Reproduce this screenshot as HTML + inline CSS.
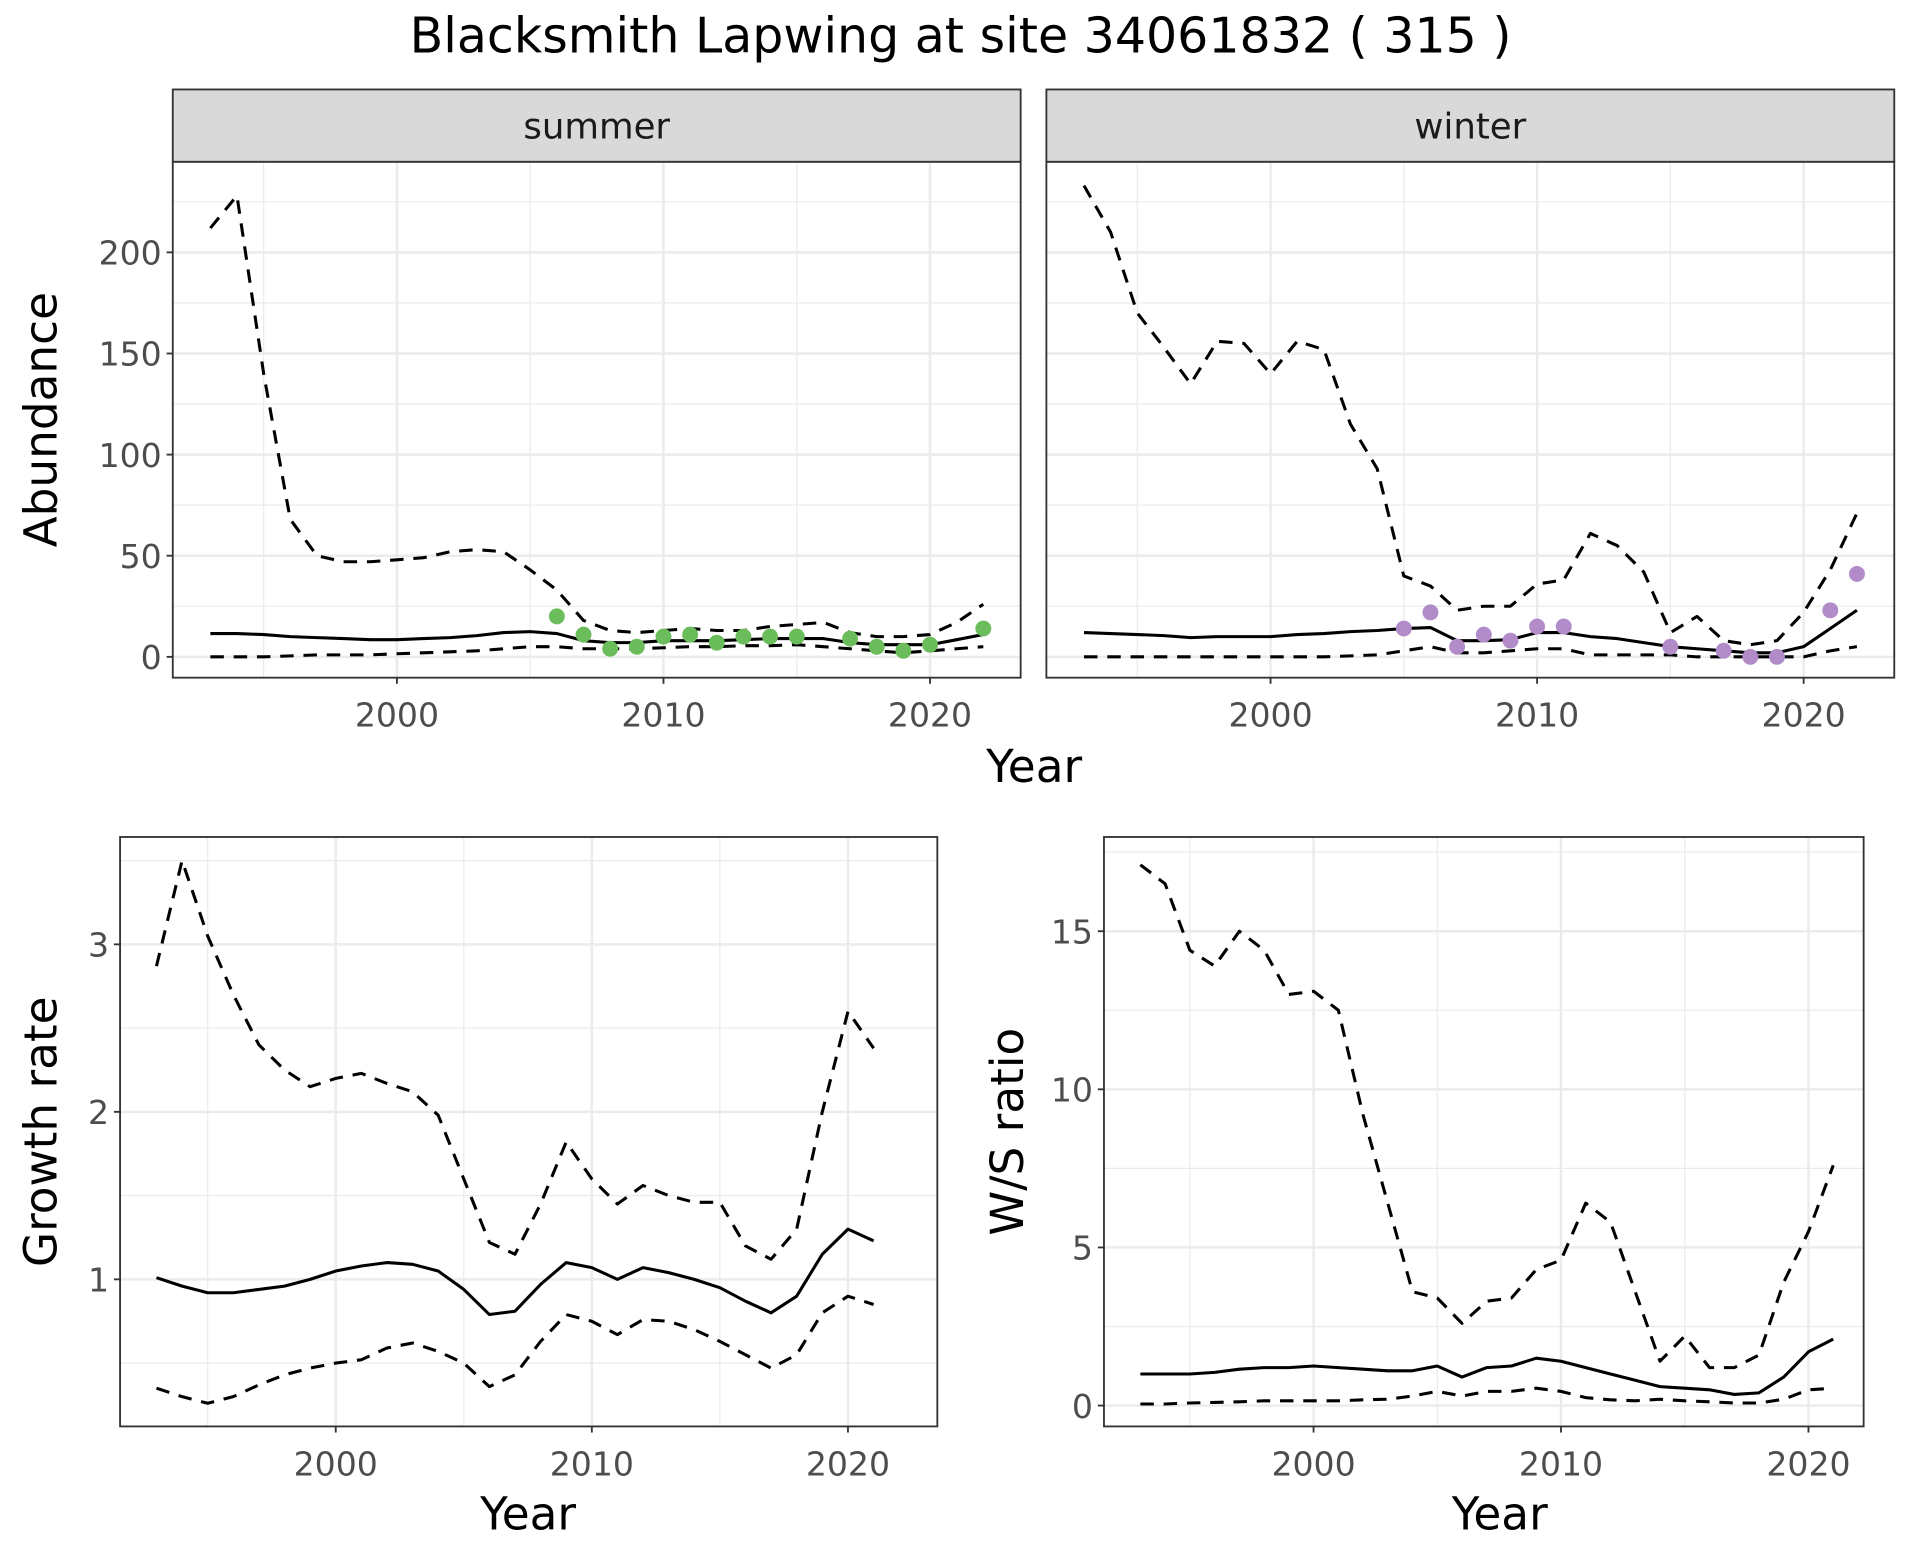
<!DOCTYPE html>
<html><head><meta charset="utf-8"><style>
html,body{margin:0;padding:0;background:#fff}
svg{display:block}
text{font-family:"DejaVu Sans","Liberation Sans",sans-serif}
</style></head><body>
<svg id="chart" width="1920" height="1560" viewBox="0 0 1567 1273" preserveAspectRatio="none" xmlns="http://www.w3.org/2000/svg">
<rect width="1567" height="1273" fill="#fff"/>
<text x="784" y="43" font-size="40" text-anchor="middle" fill="#000">Blacksmith Lapwing at site 34061832 ( 315 )</text>
</svg>
<script>
const years=[1993,1994,1995,1996,1997,1998,1999,2000,2001,2002,2003,2004,2005,2006,2007,2008,2009,2010,2011,2012,2013,2014,2015,2016,2017,2018,2019,2020,2021,2022];
const summerMean=[11.5,11.5,11,10,9.5,9,8.5,8.5,9,9.5,10.5,12,12.5,11.5,8,7,7,8,8,8,8.5,9,9,9,7,6,6,6,8.5,11];
const summerUpper=[212,228,140,68,50,47,47,48,49,52,53,52,43,33,18,13,12,13,14,13,13,15,16,17,12,10,10,11,17,26];
const summerLower=[0,0,0,0.5,1,1,1,1.5,2,2.5,3,4,5,5,4,4,4,4.5,5,5,5.5,5.5,6,5,4,3,2,3,4,5];
const summerPtYears=[2006,2007,2008,2009,2010,2011,2012,2013,2014,2015,2017,2018,2019,2020,2022];
const summerPts=[20,11,4,5,10,11,7,10,10,10,9,5,3,6,14];
const winterMean=[12,11.5,11,10.5,9.5,10,10,10,11,11.5,12.5,13,14,14.5,8,8,8.5,12,12,10,9,7,5,4,3,2,2,5,14,23];
const winterUpper=[233,210,170,153,135,156,155,140,156,152,115,93,40,35,23,25,25,36,38,61,55,42,12,20,8,6,8,22,43,71];
const winterLower=[0,0,0,0,0,0,0,0,0,0,0.5,1,3,5,2,2,3,4,4,1,1,1,1,0,0,0,0,0,3,5];
const winterPtYears=[2005,2006,2007,2008,2009,2010,2011,2015,2017,2018,2019,2021,2022];
const winterPts=[14,22,5,11,8,15,15,5,3,0,0,23,41];
const gYears=years.slice(0,29);
const growthMean=[1.01,0.96,0.92,0.92,0.94,0.96,1.0,1.05,1.08,1.10,1.09,1.05,0.94,0.79,0.81,0.97,1.10,1.07,1.00,1.07,1.04,1.00,0.95,0.87,0.80,0.90,1.15,1.30,1.23];
const growthUpper=[2.87,3.5,3.05,2.7,2.4,2.25,2.15,2.2,2.23,2.17,2.12,1.98,1.6,1.22,1.15,1.45,1.82,1.6,1.45,1.56,1.5,1.46,1.46,1.2,1.12,1.3,2.0,2.6,2.38];
const growthLower=[0.35,0.3,0.26,0.3,0.37,0.43,0.47,0.5,0.52,0.59,0.62,0.57,0.5,0.36,0.43,0.63,0.79,0.75,0.67,0.76,0.75,0.7,0.63,0.55,0.47,0.55,0.8,0.9,0.85];
const wsMean=[1.0,1.0,1.0,1.05,1.15,1.2,1.2,1.25,1.2,1.15,1.1,1.1,1.25,0.9,1.2,1.25,1.5,1.4,1.2,1.0,0.8,0.6,0.55,0.5,0.35,0.4,0.9,1.7,2.1];
const wsUpper=[17.1,16.5,14.4,13.9,15.0,14.4,13.0,13.1,12.5,9.2,6.4,3.6,3.4,2.6,3.3,3.4,4.3,4.6,6.4,5.8,3.6,1.4,2.2,1.2,1.2,1.6,3.9,5.5,7.6];
const wsLower=[0.05,0.05,0.08,0.1,0.12,0.15,0.15,0.15,0.15,0.18,0.2,0.3,0.45,0.3,0.45,0.45,0.55,0.45,0.25,0.18,0.15,0.2,0.15,0.12,0.08,0.08,0.2,0.5,0.55];
const xTicks=[2000,2010,2020];
const xMinor=[1995,2005,2015];
const abTicks=[0,50,100,150,200];
const abMinor=[25,75,125,175,225];
const gTicks=[1,2,3];
const gMinor=[0.5,1.5,2.5,3.5];
const wsTicks=[0,5,10,15];
const wsMinor=[2.5,7.5,12.5,17.5];

const svg=document.getElementById('chart');
const NS='http://www.w3.org/2000/svg';
function el(tag,attrs,parent){const e=document.createElementNS(NS,tag);for(const k in attrs)e.setAttribute(k,attrs[k]);(parent||svg).appendChild(e);return e;}

function panel(o){
  const g=el('g',{});
  
  
  const sx=v=>o.x0+(v-o.xd[0])/(o.xd[1]-o.xd[0])*(o.x1-o.x0);
  const sy=v=>o.y1-(v-o.yd[0])/(o.yd[1]-o.yd[0])*(o.y1-o.y0);
  o.xMinor.forEach(v=>el('line',{x1:sx(v),x2:sx(v),y1:o.y0,y2:o.y1,stroke:'#ebebeb','stroke-width':1},g));
  o.yMinor.forEach(v=>{if(v<o.yd[1])el('line',{x1:o.x0,x2:o.x1,y1:sy(v),y2:sy(v),stroke:'#ebebeb','stroke-width':1},g);});
  o.xTicks.forEach(v=>el('line',{x1:sx(v),x2:sx(v),y1:o.y0,y2:o.y1,stroke:'#ebebeb','stroke-width':2},g));
  o.yTicks.forEach(v=>el('line',{x1:o.x0,x2:o.x1,y1:sy(v),y2:sy(v),stroke:'#ebebeb','stroke-width':2},g));
  const path=(xs,ys,dash,nm)=>{
    let d='';xs.forEach((x,i)=>{d+=(i?'L':'M')+sx(x).toFixed(1)+','+sy(ys[i]).toFixed(1);});
    const p=el('path',{d:d,fill:'none',stroke:'#000','stroke-width':2.5,'stroke-linejoin':'round'},g);
    if(dash)p.setAttribute('stroke-dasharray','11,8');
    
    
  };
  path(o.years,o.upper,true,o.name+'-upper-ci');
  path(o.years,o.lower,true,o.name+'-lower-ci');
  path(o.years,o.mean,false,o.name+'-mean-line');
  if(o.ptYears){o.ptYears.forEach((y,i)=>{
    const c=el('circle',{cx:sx(y),cy:sy(o.pts[i]),r:6.5,fill:o.ptColor},g);
    
    
  });}
  el('rect',{x:o.x0,y:o.y0,width:o.x1-o.x0,height:o.y1-o.y0,fill:'none',stroke:'#333','stroke-width':1.5},g);
  if(o.strip){
    el('rect',{x:o.x0,y:o.y0-59,width:o.x1-o.x0,height:59,fill:'#d9d9d9',stroke:'#333','stroke-width':1.5},g);
    const t=el('text',{x:(o.x0+o.x1)/2,y:o.y0-19,'font-size':29,'text-anchor':'middle',fill:'#1a1a1a'},g);
    t.textContent=o.strip;
    
    
  }
  o.xTicks.forEach(v=>{
    el('line',{x1:sx(v),x2:sx(v),y1:o.y1,y2:o.y1+5,stroke:'#333','stroke-width':1.5},g);
    const t=el('text',{x:sx(v),y:o.y1+40,'font-size':27,'text-anchor':'middle',fill:'#4d4d4d'},g);
    t.textContent=v;
    
    
  });
  if(o.yLabels){o.yTicks.forEach(v=>{
    el('line',{x1:o.x0-5,x2:o.x0,y1:sy(v),y2:sy(v),stroke:'#333','stroke-width':1.5},g);
    const t=el('text',{x:o.x0-9,y:sy(v)+10,'font-size':27,'text-anchor':'end',fill:'#4d4d4d'},g);
    t.textContent=v;
    
    
  });}
  if(o.yTitle){
    const t=el('text',{x:0,y:0,'font-size':37,'text-anchor':'middle',fill:'#000',transform:'translate('+o.yTitleX+','+((o.y0+o.y1)/2)+') rotate(-90)'},g);
    t.textContent=o.yTitle;
    
    
  }
  if(o.xTitleX){
    const t=el('text',{x:o.xTitleX,y:o.xTitleY,'font-size':37,'text-anchor':'middle',fill:'#000'},g);
    t.textContent='Year';
    
    
  }
}
const abXd=[1991.59,2023.4], abYd=[-10.3,244.8];
panel({name:'summer-panel',x0:141,x1:833,y0:132,y1:553,xd:abXd,yd:abYd,xTicks,xMinor,yTicks:abTicks,yMinor:abMinor,years,mean:summerMean,upper:summerUpper,lower:summerLower,ptYears:summerPtYears,pts:summerPts,ptColor:'#6bbd5b',strip:'summer',yLabels:true,yTitle:'Abundance',yTitleX:46,xTitleX:844,xTitleY:638});
panel({name:'winter-panel',x0:854,x1:1546,y0:132,y1:553,xd:abXd,yd:abYd,xTicks,xMinor,yTicks:abTicks,yMinor:abMinor,years,mean:winterMean,upper:winterUpper,lower:winterLower,ptYears:winterPtYears,pts:winterPts,ptColor:'#b18cc8',strip:'winter',yLabels:false});
panel({name:'growth-rate-panel',x0:98,x1:765,y0:683,y1:1164,xd:[1991.58,2023.49],yd:[0.122,3.641],xTicks,xMinor,yTicks:gTicks,yMinor:gMinor,years:gYears,mean:growthMean,upper:growthUpper,lower:growthLower,yLabels:true,yTitle:'Growth rate',yTitleX:46,xTitleX:431,xTitleY:1248});
panel({name:'ws-ratio-panel',x0:901,x1:1521,y0:683,y1:1164,xd:[1991.53,2022.23],yd:[-0.66,17.98],xTicks,xMinor,yTicks:wsTicks,yMinor:wsMinor,years:gYears,mean:wsMean,upper:wsUpper,lower:wsLower,yLabels:true,yTitle:'W/S ratio',yTitleX:835,xTitleX:1224,xTitleY:1248});
</script>
</body></html>
